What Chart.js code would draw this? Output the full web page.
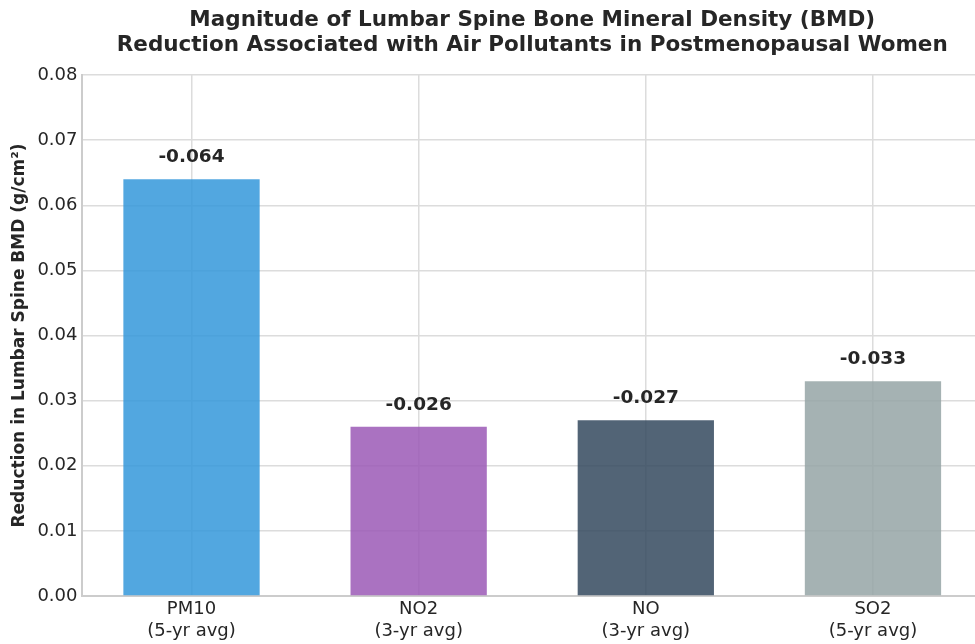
<!DOCTYPE html>
<html>
<head>
<meta charset="utf-8">
<script src="https://cdn.jsdelivr.net/npm/chart.js@4"></script>
<style>
  html, body { margin: 0; padding: 0; background: #fff; overflow: hidden; }
  #wrap { width: 1000px; height: 644px; }
</style>
</head>
<body>
<div id="wrap"><canvas id="myChart"></canvas></div>
<script>
  const pollutants = ['PM10', 'NO2', 'NO', 'SO2'];
  const periods = ['(5-yr avg)', '(3-yr avg)', '(3-yr avg)', '(5-yr avg)'];
  const reduction = [0.064, 0.026, 0.027, 0.033];
  const barColors = ['rgba(52,152,219,0.85)', 'rgba(155,89,182,0.85)', 'rgba(52,73,94,0.85)', 'rgba(149,165,166,0.85)'];
  const yTicks = [0, 0.01, 0.02, 0.03, 0.04, 0.05, 0.06, 0.07, 0.08];
  const titleLines = ['Magnitude of Lumbar Spine Bone Mineral Density (BMD)', 'Reduction Associated with Air Pollutants in Postmenopausal Women'];

  const font = 'DejaVu Sans';

  // title centred over the plot area, like matplotlib
  const titlePlugin = {
    id: 'axTitle',
    afterDraw(chart) {
      const c = chart.ctx, a = chart.chartArea;
      c.save();
      c.font = 'bold 21.5px "' + font + '"';
      c.fillStyle = '#262626';
      c.textAlign = 'center';
      c.textBaseline = 'middle';
      const cx = (a.left + a.right) / 2;
      c.fillText(titleLines[0], cx, 20);
      c.fillText(titleLines[1], cx, 45);
      c.restore();
    }
  };

  const valueLabels = {
    id: 'valueLabels',
    afterDatasetsDraw(chart) {
      const c = chart.ctx;
      const meta = chart.getDatasetMeta(0);
      c.save();
      c.font = 'bold 18.5px "' + font + '"';
      c.fillStyle = '#262626';
      c.textAlign = 'center';
      c.textBaseline = 'middle';
      meta.data.forEach((bar, i) => {
        c.fillText('-' + reduction[i].toFixed(3), bar.x, bar.y - 22);
      });
      c.restore();
    }
  };

  const ctx = document.getElementById('myChart');
  new Chart(ctx, {
    type: 'bar',
    data: {
      datasets: [{
        data: reduction.map((v, i) => ({ x: i, y: v })),
        backgroundColor: barColors,
        borderWidth: 0,
        barPercentage: 0.6,
        categoryPercentage: 1.0
      }]
    },
    options: {
      responsive: true,
      maintainAspectRatio: false,
      animation: false,
      layout: { padding: { top: 75, left: 5, right: 18, bottom: 0 } },
      plugins: {
        legend: { display: false },
        tooltip: { enabled: false }
      },
      scales: {
        x: {
          type: 'linear',
          offset: false,
          min: -0.48,
          max: 3.48,
          afterBuildTicks: (scale) => {
            scale.ticks = pollutants.map((p, i) => ({ value: i }));
          },
          ticks: {
            callback: (v) => [pollutants[v], periods[v]],
            font: { family: font, size: 18, lineHeight: 1.22 },
            color: '#262626',
            padding: 2,
            maxRotation: 0
          },
          grid: { offset: false, color: '#dcdcdc', lineWidth: 1.5, drawTicks: false },
          border: { color: '#cccccc', width: 2 }
        },
        y: {
          min: 0,
          max: 0.08,
          afterBuildTicks: (scale) => {
            scale.ticks = yTicks.map(v => ({ value: v }));
          },
          ticks: {
            callback: (v) => v.toFixed(2),
            font: { family: font, size: 18 },
            color: '#262626',
            padding: 5
          },
          grid: { color: '#dcdcdc', lineWidth: 1.5, drawTicks: false },
          border: { color: '#cccccc', width: 2 },
          title: {
            display: true,
            text: 'Reduction in Lumbar Spine BMD (g/cm²)',
            font: { family: font, size: 17, weight: 'bold' },
            color: '#262626',
            padding: { top: 4, bottom: 3 }
          }
        }
      }
    },
    plugins: [titlePlugin, valueLabels]
  });
</script>
</body>
</html>
